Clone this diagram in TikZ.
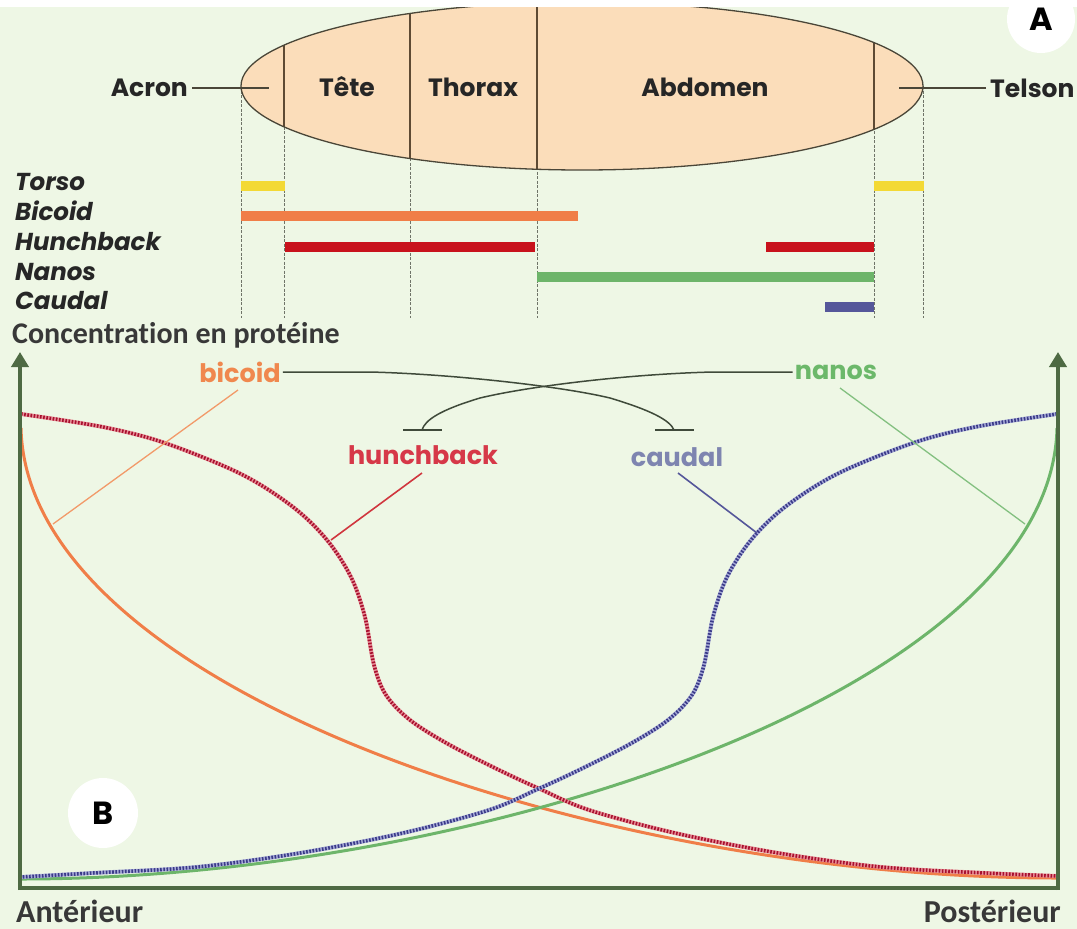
\documentclass[tikz,border=0pt]{standalone}
\usepackage{fontspec}
\setmainfont{Carlito}[Ligatures=NoCommon]
\newfontfamily\geo{Poppins}
\usetikzlibrary{arrows.meta}
\definecolor{bg}{HTML}{EEF7E5}
\definecolor{peach}{HTML}{FBDDBA}
\definecolor{outl}{HTML}{4A4638}
\definecolor{segc}{HTML}{5E4A34}
\definecolor{guide}{HTML}{6F7468}
\definecolor{cTorso}{HTML}{F3D935}
\definecolor{cBic}{HTML}{F07E48}
\definecolor{cHb}{HTML}{C8121C}
\definecolor{cNan}{HTML}{6DB56A}
\definecolor{cCad}{HTML}{55579A}
\definecolor{axisc}{HTML}{4E6A43}
\definecolor{tBic}{HTML}{F0884E}
\definecolor{tHb}{HTML}{D63848}
\definecolor{tCad}{HTML}{7E85B0}
\definecolor{tNan}{HTML}{6CB86A}
\definecolor{hbDot}{HTML}{A8102E}
\definecolor{hbLight}{HTML}{E89098}
\definecolor{cdDot}{HTML}{3A3A88}
\definecolor{cdLight}{HTML}{A8ACD8}
\definecolor{inhib}{HTML}{3F4A3A}
\tikzset{
  seglab/.style={font=\geo\bfseries\fontsize{25}{25}\selectfont, text=black!85, inner sep=0pt},
  genelab/.style={font=\geo\bfseries\itshape\fontsize{24.5}{24.5}\selectfont, text=black!85, inner sep=0pt, anchor=base west},
  bar/.style={line width=10pt},
  guideline/.style={guide, line width=1pt, dash pattern=on 3pt off 1.5pt},
  segline/.style={segc, line width=1.3pt},
  curvelab/.style={font=\geo\bfseries\fontsize{25.5}{25.5}\selectfont, inner sep=2pt},
  axisline/.style={axisc, line width=4pt},
  inhibline/.style={inhib, line width=1.5pt},
  bigletter/.style={circle, fill=white, inner sep=0pt, font=\geo\bfseries\fontsize{32}{32}\selectfont},
  axlab/.style={font=\bfseries\fontsize{32}{32}\selectfont, text=black!78, inner sep=0pt},
}
\begin{document}
\begin{tikzpicture}[x=1pt,y=-1pt]
\useasboundingbox (0,0) rectangle (1077,929);
\fill[bg] (0,0) rectangle (1077,929);

% ---------- Part A ----------
\foreach \xx in {241,284,410,537,874,923} {\draw[guideline] (\xx,86) -- (\xx,318);}
\coordinate (E) at (582,86);
\fill[peach] (E) ellipse [x radius=341pt, y radius=84pt];
\begin{scope}
  \clip (E) ellipse [x radius=341pt, y radius=84pt];
  \foreach \xx in {284,410,537,874} {\draw[segline] (\xx,0) -- (\xx,200);}
\end{scope}
\draw[outl, line width=1.3pt] (E) ellipse [x radius=341pt, y radius=84pt];
\fill[white] (0,0) rectangle (1077,7);

\node[seglab, anchor=east] (acron) at (188,88) {Acron};
\node[seglab] (tete) at (347,87) {Tête};
\node[seglab] (thorax) at (473,87) {Thorax};
\node[seglab] (abdo) at (705,87) {Abdomen};
\node[seglab, anchor=west] (telson) at (990,88) {Telson};
\coordinate (acronpt) at (269,88);
\coordinate (telsonpt) at (899,88);
\draw[outl, line width=1.2pt] (acron.east) ++(4pt,0) -- (acronpt);
\draw[outl, line width=1.2pt] (telson.west) ++(-4pt,0) -- (telsonpt);

\node[bigletter, minimum size=68pt] (labA) at (1041,19) {A};

\node[genelab] (gTorso) at (15,190) {Torso};
\node[genelab] (gBic) at (15,220) {Bicoid};
\node[genelab] (gHb) at (15,250) {Hunchback};
\node[genelab] (gNan) at (15,280) {Nanos};
\node[genelab] (gCad) at (15,309) {Caudal};

\draw[bar, cTorso] (241,186) -- (285,186);
\draw[bar, cTorso] (874,186) -- (924,186);
\draw[bar, cBic] (241,216) -- (578,216);
\draw[bar, cHb] (285,247) -- (535,247);
\draw[bar, cHb] (766,247) -- (874,247);
\draw[bar, cNan] (537,277) -- (874,277);
\draw[bar, cCad] (825,307) -- (874,307);

% ---------- Part B ----------
\node[axlab, font=\bfseries\fontsize{30}{30}\selectfont, anchor=base west] (conc) at (12,343) {Concentration en protéine};
\node[axlab, anchor=base west] (ant) at (16,922) {Antérieur};
\node[axlab, anchor=base east] (post) at (1061,922) {Postérieur};

\node[bigletter, minimum size=70pt] (labB) at (103,813) {B};

% curves
\draw[cBic, line width=3pt] (21,428) .. controls (27,690) and (600,878) .. (1057,878);
\draw[cNan, line width=3pt] (1057,428) .. controls (1051,690) and (478,879) .. (21,879);

\draw[hbLight, line width=4pt] plot[smooth, tension=0.55] coordinates {
 (21,414) (103,427) (165,443) (241,474) (293,507) (327,540) (351,577) (365,617) (374,665) (386,695) (410,720) (448,744) (499,770) (540,789) (589,810) (675,833) (778,853) (881,867) (985,873) (1057,876)};
\draw[hbDot, line width=3.5pt, dash pattern=on 1.6pt off 1.6pt] plot[smooth, tension=0.55] coordinates {
 (21,414) (103,427) (165,443) (241,474) (293,507) (327,540) (351,577) (365,617) (374,665) (386,695) (410,720) (448,744) (499,770) (540,789) (589,810) (675,833) (778,853) (881,867) (985,873) (1057,876)};

\draw[cdLight, line width=4pt] plot[smooth, tension=0.55] coordinates {
 (1057,414) (975,427) (913,443) (837,474) (785,507) (751,540) (727,577) (713,617) (704,665) (692,695) (668,720) (630,744) (579,770) (538,789) (489,810) (403,833) (300,853) (197,867) (93,873) (21,877)};
\draw[cdDot, line width=3.5pt, dash pattern=on 1.6pt off 1.6pt] plot[smooth, tension=0.55] coordinates {
 (1057,414) (975,427) (913,443) (837,474) (785,507) (751,540) (727,577) (713,617) (704,665) (692,695) (668,720) (630,744) (579,770) (538,789) (489,810) (403,833) (300,853) (197,867) (93,873) (21,877)};

% axes
\coordinate (origin) at (20,888);
\coordinate (xend) at (1058,888);
\coordinate (ytop) at (20,352);
\coordinate (ytop2) at (1058,352);
\draw[axisline] (18,888) -- (1060,888);
\draw[axisline, -{Triangle[width=17pt,length=15pt]}] (20,890) -- (ytop);
\draw[axisline, -{Triangle[width=17pt,length=15pt]}] (1058,890) -- (ytop2);

% curve labels
\node[curvelab, text=tBic] (lbic) at (240,372) {bicoid};
\node[curvelab, text=tHb] (lhb) at (423,455) {hunchback};
\node[curvelab, text=tCad] (lcad) at (677,457) {caudal};
\node[curvelab, text=tNan] (lnan) at (836,372) {nanos};

\coordinate (pbic) at (53,524);
\coordinate (phb) at (331,540);
\coordinate (pcad) at (757,533);
\coordinate (pnan) at (1025,524);
\draw[tBic!85!white, line width=1.3pt] (238,390) -- (pbic);
\draw[cHb!85!white, line width=1.6pt] (422,473) -- (phb);
\draw[cCad, line width=1.6pt] (678,473) -- (pcad);
\draw[cNan!85!white, line width=1.3pt] (840,388) -- (pnan);

% inhibition
\coordinate (bhb) at (422,430);
\coordinate (bcad) at (674,430);
\draw[inhibline] (lbic.east) -- (370,372) .. controls (450,374) and (560,386) .. (610,398) .. controls (650,410) and (670,420) .. (bcad);
\draw[inhibline] (lnan.west) -- (713,372) .. controls (630,374) and (530,386) .. (480,398) .. controls (440,410) and (425,420) .. (bhb);
\draw[inhibline] (403,430) -- (442,430);
\draw[inhibline] (655,430) -- (694,430);
\end{tikzpicture}
\end{document}
